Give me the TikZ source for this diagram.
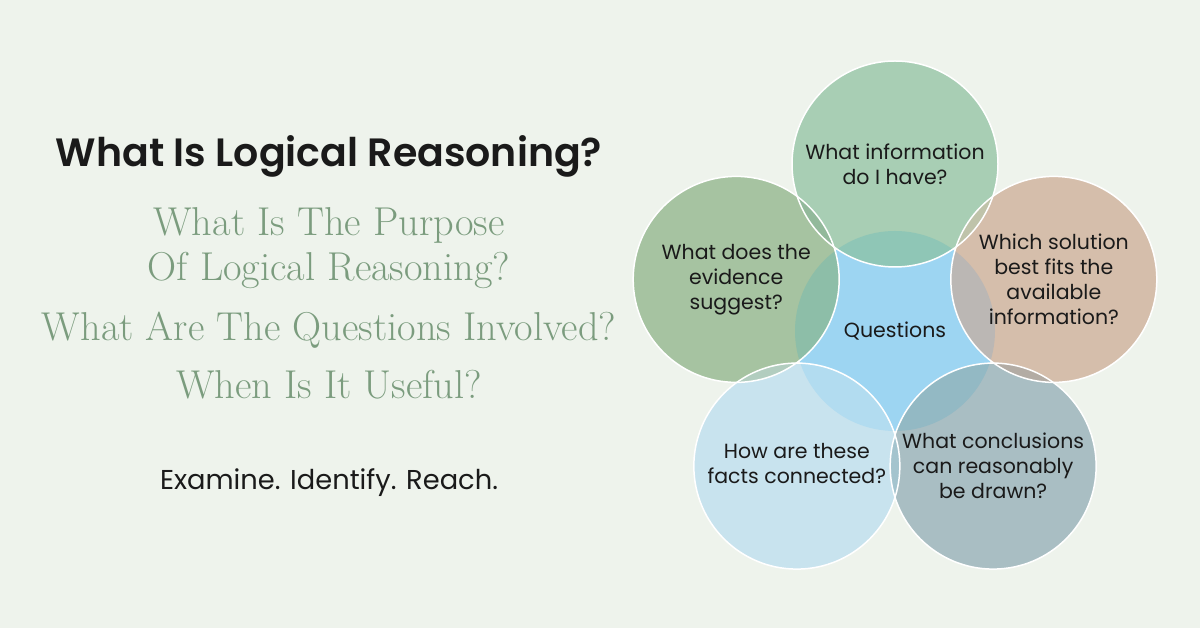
\documentclass[tikz,border=0pt]{standalone}
\usepackage{fontspec}
\usetikzlibrary{calc}
\newfontfamily\popfont{Poppins}
\newfontfamily\popsemi{Poppins}[UprightFont=* SemiBold]

\definecolor{bgpage}{HTML}{EEF3EC}
\definecolor{inktext}{HTML}{1A1A1A}
\definecolor{sagetext}{HTML}{7B9C7E}
\definecolor{qblue}{HTML}{9DD5F2}
\definecolor{cinfo}{HTML}{A8CEB4}
\definecolor{cevid}{HTML}{A6C3A1}
\definecolor{csol}{HTML}{D5BEAB}
\definecolor{cfacts}{HTML}{C8E3EE}
\definecolor{cconcl}{HTML}{A9BEC3}
% overlaps with the centre circle
\definecolor{oinfo}{HTML}{8FC6B6}
\definecolor{oevid}{HTML}{8DBEA8}
\definecolor{osol}{HTML}{BBB7B4}
\definecolor{ofacts}{HTML}{B2DCF0}
\definecolor{oconcl}{HTML}{93B9C4}
% overlaps of neighbours
\definecolor{lensA}{HTML}{93B99B}
\definecolor{lensB}{HTML}{BFC3AA}
\definecolor{lensC}{HTML}{B3ACA4}
\definecolor{lensD}{HTML}{A4C4CE}
\definecolor{lensE}{HTML}{B2CDBF}

\begin{document}
\begin{tikzpicture}[x=1pt,y=1pt,
  qtext/.style={align=center,text=inktext,font=\popfont\fontsize{20.5}{25}\selectfont},
  headline/.style={anchor=base,text=inktext,font=\popsemi\fontsize{39.5}{42}\selectfont},
  subline/.style={anchor=base,text=sagetext,font=\fontsize{40.3}{44}\selectfont},
  tagline/.style={anchor=base,text=inktext,font=\popfont\fontsize{27.3}{30}\selectfont},
  rim/.style={draw=white,line width=1.5pt}]

\fill[bgpage] (0,0) rectangle (1200,628);
\useasboundingbox (0,0) rectangle (1200,628);

% left column
\node[headline] (title) at (329,461) {What Is Logical Reasoning?};
\node[subline] (purpose) at (329,392) {What Is The Purpose};
\node[subline] (oflogic) at (329,347) {Of Logical Reasoning?};
\node[subline] (involved) at (329,287) {What Are The Questions Involved?};
\node[subline] (useful) at (329,229) {When Is It Useful?};
\node[tagline] (motto) at (329,138) {Examine. Identify. Reach.};

% circle centres
\coordinate (qc) at (895,297);
\foreach \n/\a in {info/90, evid/162, sol/18, facts/234, concl/306}
  \coordinate (\n) at ($(qc)+(\a:167)$);

\fill[qblue] (qc) circle[radius=100];
\foreach \n in {info,evid,sol,facts,concl}
  \fill[c\n] (\n) circle[radius=103];

% overlaps with the centre
\foreach \n in {info,evid,sol,facts,concl}{
  \begin{scope}
    \clip (qc) circle[radius=100];
    \fill[o\n] (\n) circle[radius=103];
  \end{scope}
}

% overlaps of neighbours
\foreach \p/\q/\c in {info/evid/lensA, info/sol/lensB, sol/concl/lensC,
                      concl/facts/lensD, facts/evid/lensE}{
  \begin{scope}
    \clip (\p) circle[radius=103];
    \fill[\c] (\q) circle[radius=103];
  \end{scope}
}

\foreach \n in {info,evid,sol,facts,concl}
  \draw[rim] (\n) circle[radius=103];

% texts
\node[qtext] (quest) at (qc) {Questions};
\node[qtext] (infotext) at (info) {What information\\do I have?};
\node[qtext] (evidtext) at (evid) {What does the\\evidence\\suggest?};
\node[qtext] (soltext) at (sol) {Which solution\\best fits the\\available\\information?};
\node[qtext] (factstext) at ($(facts)+(0,3)$) {How are these\\facts connected?};
\node[qtext] (concltext) at (concl) {What conclusions\\can reasonably\\be drawn?};
\end{tikzpicture}
\end{document}
